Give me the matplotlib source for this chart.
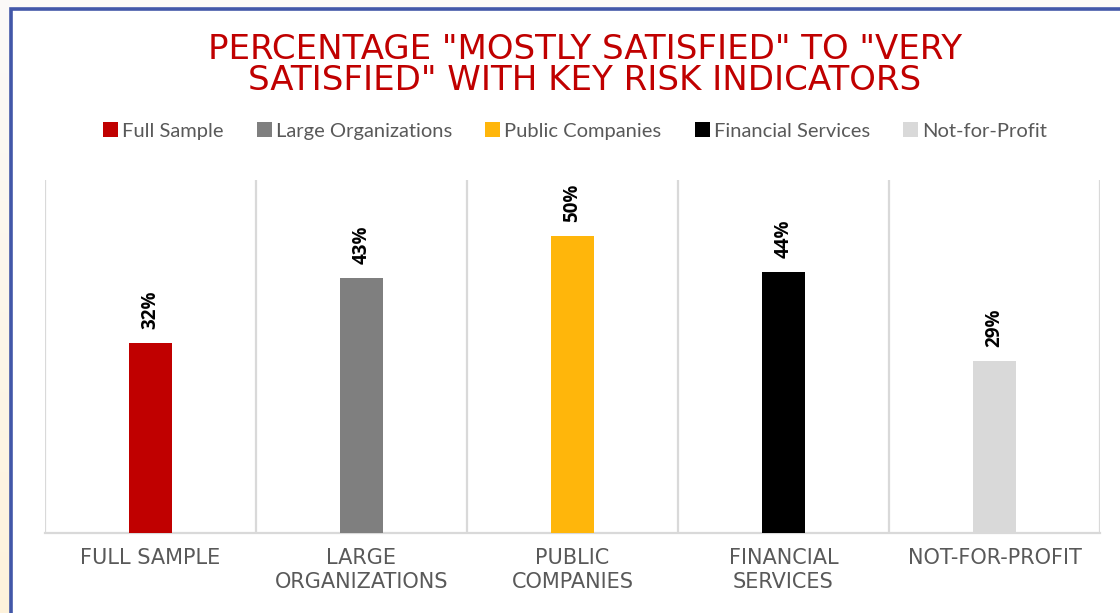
import numpy as np
import matplotlib
matplotlib.use("Agg")
import matplotlib.pyplot as plt
from matplotlib.patches import Rectangle, Patch

# data
categories = ["FULL SAMPLE", "LARGE\nORGANIZATIONS", "PUBLIC\nCOMPANIES",
              "FINANCIAL\nSERVICES", "NOT-FOR-PROFIT"]
series_names = ["Full Sample", "Large Organizations", "Public Companies",
                "Financial Services", "Not-for-Profit"]
values = [0.32, 0.43, 0.50, 0.44, 0.29]
value_labels = ["32%", "43%", "50%", "44%", "29%"]
colors = ["#C00000", "#7F7F7F", "#FFB60B", "#000000", "#D9D9D9"]
title = 'PERCENTAGE "MOSTLY SATISFIED" TO "VERY\nSATISFIED" WITH KEY RISK INDICATORS'

W, H = 1120, 613
fig = plt.figure(figsize=(W / 100, H / 100), dpi=100, facecolor="#FBF9F7")

# white panel with blue border (cropped at right/bottom)
panel = Rectangle((11 / W, -0.05), 1.2, 1 - 9 / H + 0.05, transform=fig.transFigure,
                  facecolor="white", edgecolor="#4257A8", linewidth=2.6, zorder=-5)
fig.patches.append(panel)

# outer slide background: light strip with warm tint toward the bottom-left
bg = fig.add_axes([0, 0, 10 / W, 1], zorder=-10)
grad = np.linspace(0, 1, 256).reshape(-1, 1)
top_c = np.array([0.985, 0.98, 0.975])
bot_c = np.array([0.995, 0.95, 0.86])
img = top_c * (1 - grad[..., None]) + bot_c * grad[..., None]
bg.imshow(img, aspect="auto", extent=[0, 1, 0, 1])
bg.set_axis_off()

ax = fig.add_axes([45 / W, (H - 533) / H, (1100 - 45) / W, (533 - 180) / H])
ax.set_facecolor("white")
x = np.arange(len(values))
ax.bar(x, values, width=0.2, color=colors, zorder=3)
ax.set_xlim(-0.5, len(values) - 0.5)
ax.set_ylim(0, 0.595)

for b in np.arange(-0.5, len(values), 1.0):
    ax.axvline(b, color="#D9D9D9", linewidth=1.6, zorder=1)
for s in ["top", "left", "right"]:
    ax.spines[s].set_visible(False)
ax.spines["bottom"].set_color("#D9D9D9")
ax.spines["bottom"].set_linewidth(1.6)
ax.set_yticks([])
ax.set_xticks(x)
ax.set_xticklabels(categories, fontfamily="DejaVu Sans", fontsize=15, color="#595959",
                   linespacing=1.22)
ax.tick_params(axis="x", length=0, pad=11)

for xi, v, lab in zip(x, values, value_labels):
    ax.annotate(lab, (xi, v), xytext=(0, 10), textcoords="offset points",
                rotation=90, ha="center", va="bottom", fontsize=13.5,
                fontweight="bold", fontfamily="Open Sans", color="black")

fig.text(585 / W, 1 - 65 / H, title, ha="center", va="center", color="#C00000",
         fontsize=24.5, fontfamily="DejaVu Sans", linespacing=0.93)

handles = [Patch(facecolor=c) for c in colors]
fig.legend(handles, series_names, loc="center", bbox_to_anchor=(575 / W, 1 - 131 / H),
           ncol=5, frameon=False, handlelength=0.75, handleheight=0.75,
           handletextpad=0.2, columnspacing=1.65,
           prop={"family": "Lato", "size": 14.5}, labelcolor="#595959")

fig.savefig("out.png", dpi=100, facecolor=fig.get_facecolor())
